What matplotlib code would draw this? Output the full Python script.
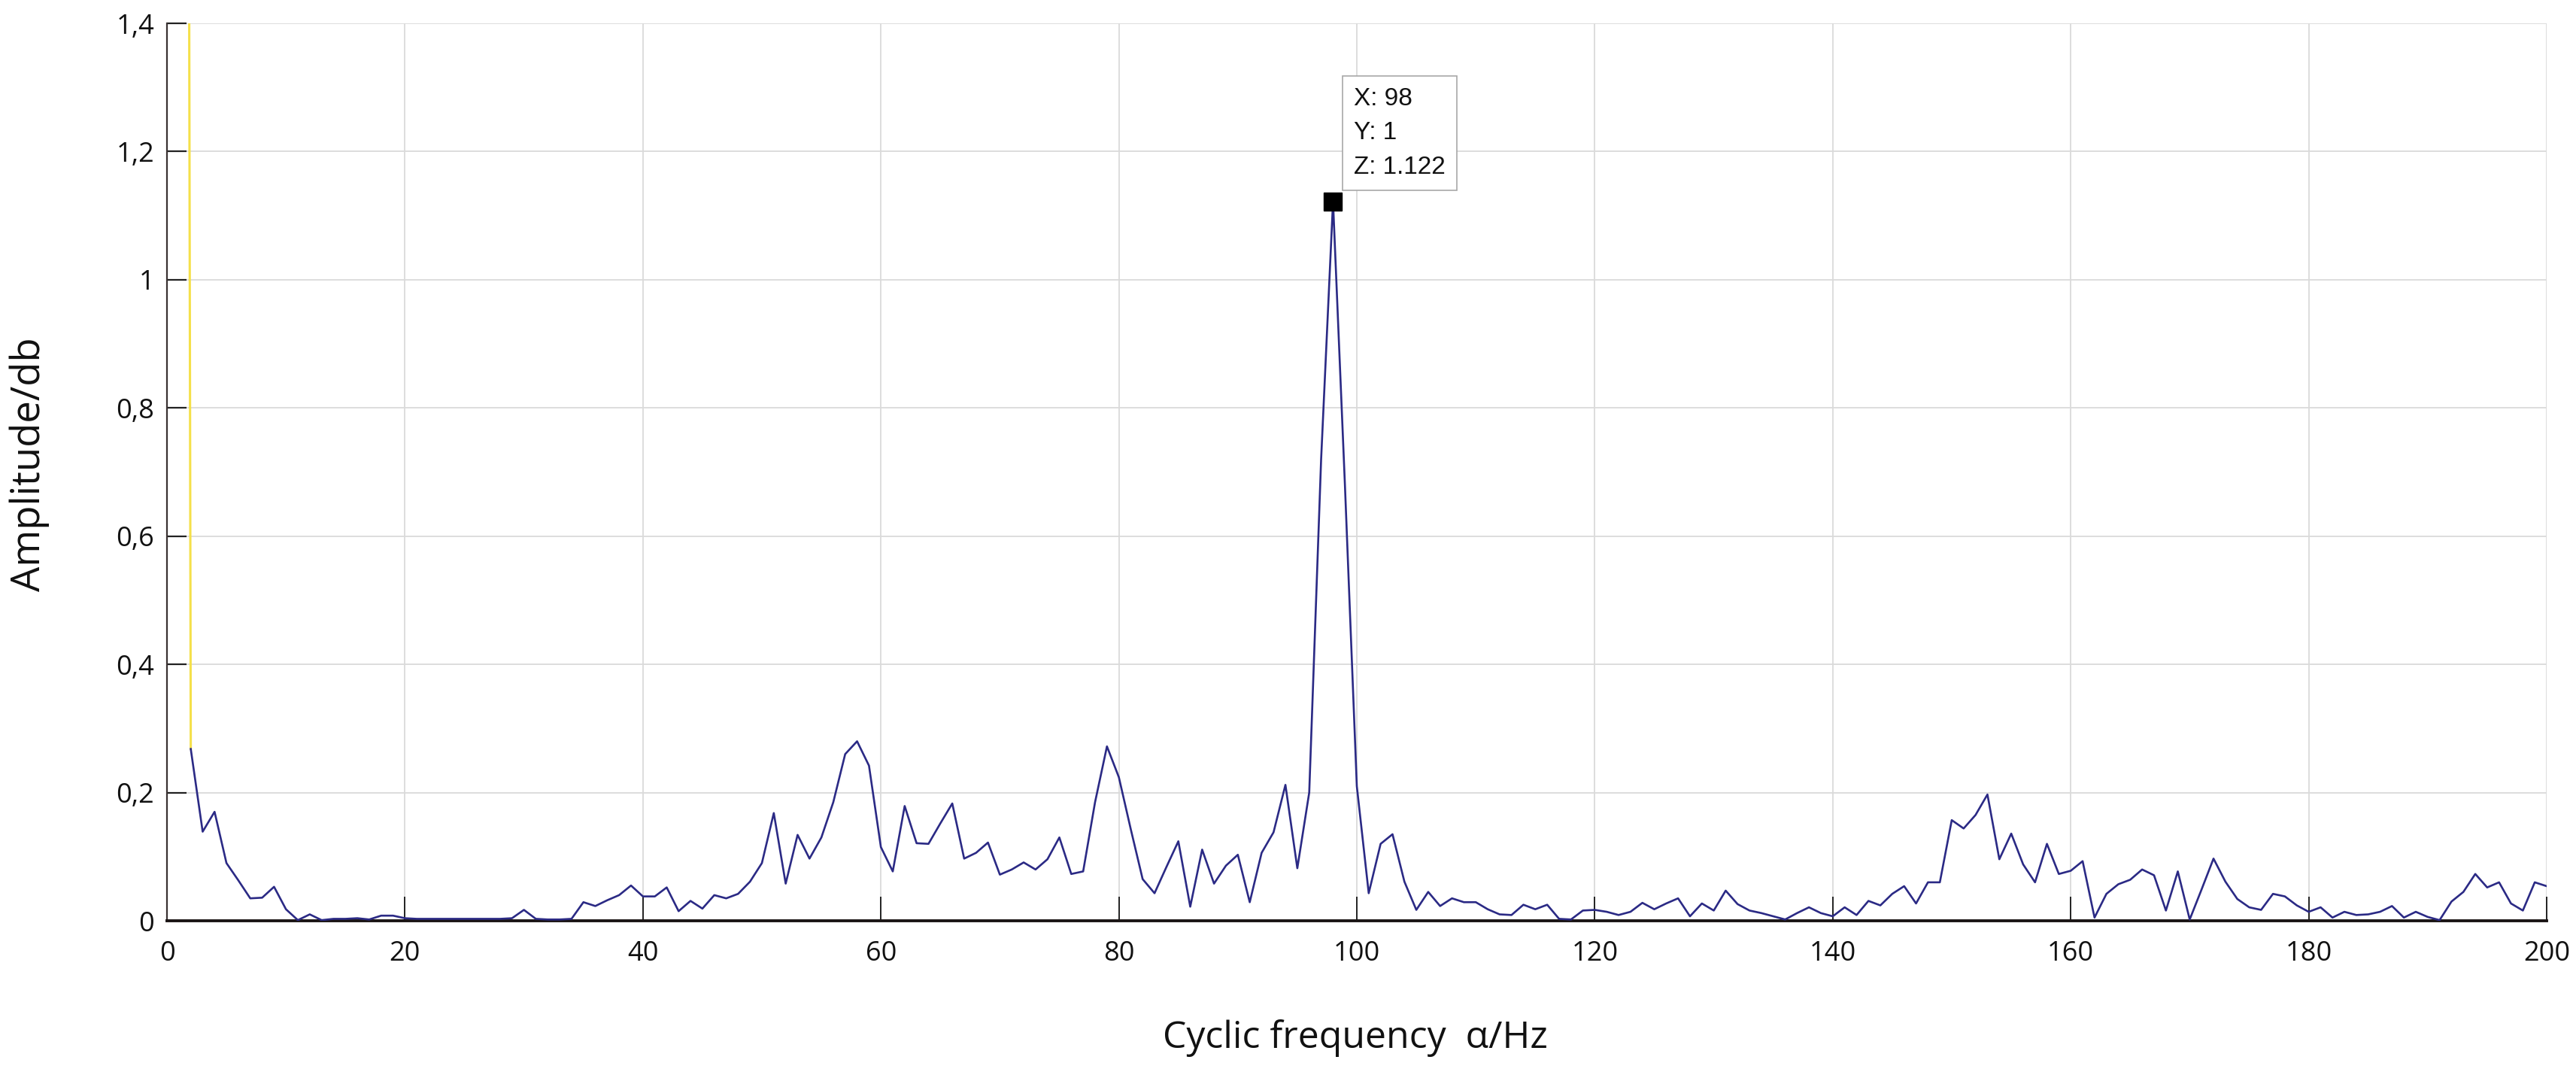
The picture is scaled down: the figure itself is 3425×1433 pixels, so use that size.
import matplotlib
matplotlib.use("Agg")
import matplotlib.pyplot as plt
import numpy as np

# ---------------- data ----------------
alpha_hz = list(range(2, 201))
amplitude = [
    0.268, 0.139, 0.170, 0.090, 0.063, 0.035, 0.036, 0.053, 0.018,          # 2-10
    0.001, 0.010, 0.001, 0.003, 0.003, 0.004, 0.002, 0.008, 0.008, 0.004,   # 11-20
    0.003, 0.003, 0.003, 0.003, 0.003, 0.003, 0.003, 0.003, 0.004, 0.017,   # 21-30
    0.003, 0.002, 0.002, 0.003, 0.029, 0.023, 0.032, 0.040, 0.055, 0.038,   # 31-40
    0.038, 0.052, 0.015, 0.031, 0.019, 0.040, 0.035, 0.042, 0.061, 0.090,   # 41-50
    0.168, 0.058, 0.134, 0.097, 0.130, 0.185, 0.260, 0.280, 0.242, 0.115,   # 51-60
    0.077, 0.179, 0.121, 0.120, 0.152, 0.183, 0.097, 0.106, 0.122, 0.072,   # 61-70
    0.080, 0.091, 0.080, 0.096, 0.130, 0.073, 0.077, 0.185, 0.272, 0.224,   # 71-80
    0.143, 0.065, 0.043, 0.084, 0.124, 0.022, 0.111, 0.058, 0.086, 0.103,   # 81-90
    0.029, 0.106, 0.138, 0.212, 0.082, 0.200, 0.720, 1.122, 0.680, 0.210,   # 91-100
    0.043, 0.120, 0.135, 0.061, 0.017, 0.045, 0.023, 0.035, 0.029, 0.029,   # 101-110
    0.018, 0.010, 0.009, 0.025, 0.018, 0.025, 0.003, 0.002, 0.016, 0.017,   # 111-120
    0.014, 0.009, 0.014, 0.028, 0.018, 0.027, 0.035, 0.007, 0.027, 0.016,   # 121-130
    0.047, 0.026, 0.016, 0.012, 0.007, 0.002, 0.012, 0.021, 0.012, 0.007,   # 131-140
    0.021, 0.009, 0.031, 0.024, 0.042, 0.054, 0.027, 0.060, 0.060, 0.157,   # 141-150
    0.144, 0.165, 0.197, 0.096, 0.136, 0.088, 0.060, 0.120, 0.073, 0.078,   # 151-160
    0.093, 0.005, 0.042, 0.057, 0.064, 0.080, 0.071, 0.016, 0.077, 0.002,   # 161-170
    0.049, 0.097, 0.061, 0.034, 0.021, 0.017, 0.042, 0.038, 0.024, 0.014,   # 171-180
    0.021, 0.005, 0.014, 0.009, 0.010, 0.014, 0.023, 0.005, 0.014, 0.006,   # 181-190
    0.001, 0.030, 0.045, 0.073, 0.052, 0.060, 0.027, 0.016, 0.060, 0.054,   # 191-200
]

# yellow segment at the low-frequency end (clipped at the top)
yellow_x = [1.87, 2.0]
yellow_z = [1.40, 0.268]

# data tip
tip_x, tip_y, tip_z = 98, 1, 1.122

x_ticks = list(range(0, 201, 20))
y_ticks = [0, 0.2, 0.4, 0.6, 0.8, 1.0, 1.2, 1.4]
y_tick_labels = ["0", "0,2", "0,4", "0,6", "0,8", "1", "1,2", "1,4"]

# ---------------- figure ----------------
W, H = 3425, 1433
fig = plt.figure(figsize=(W / 100, H / 100), dpi=100)
ax = fig.add_axes([222 / W, 1 - 1224 / H, (3386 - 222) / W, (1224 - 31) / H])

ax.set_xlim(0, 200)
ax.set_ylim(0, 1.4)

ax.grid(True, color="#dadada", linewidth=1.3)
ax.set_axisbelow(True)

ax.plot(yellow_x, yellow_z, color="#f5e04a", linewidth=2.2, zorder=3, clip_on=True)
ax.plot(alpha_hz, amplitude, color="#2b2a85", linewidth=1.9, zorder=4)
ax.plot([tip_x], [tip_z], marker="s", markersize=17, color="black",
        linestyle="none", zorder=6)

# spines
for s in ["top", "right"]:
    ax.spines[s].set_visible(False)
ax.spines["left"].set_color("#3a3232")
ax.spines["left"].set_linewidth(1.6)
ax.spines["bottom"].set_color("#1a1414")
ax.spines["bottom"].set_linewidth(2.8)

ax.set_xticks(x_ticks)
ax.set_xticklabels([str(v) for v in x_ticks])
ax.set_yticks(y_ticks)
ax.set_yticklabels(y_tick_labels)
ax.tick_params(axis="x", direction="in", length=23, width=1.4, color="#222222",
               pad=19, labelsize=26, labelcolor="#111111")
ax.tick_params(axis="y", direction="in", length=19, width=1.6, color="#222222",
               pad=12, labelsize=26, labelcolor="#111111")
for lab in ax.get_xticklabels() + ax.get_yticklabels():
    lab.set_fontfamily("Open Sans")

# data tip box
ax.annotate(f"X: {tip_x}\nY: {tip_y}\nZ: {tip_z:.3f}",
            xy=(tip_x, tip_z), xytext=(28, 30), textcoords="offset pixels",
            ha="left", va="bottom", fontsize=24, family="Liberation Sans",
            linespacing=1.6, color="#111111", zorder=7,
            bbox=dict(boxstyle="square,pad=0.45", fc="white", ec="#a8a8a8", lw=1.2))

# axis labels
fig.text(1802 / W, 1 - 1380 / H, "Cyclic frequency  α/Hz", ha="center", va="center",
         fontsize=36, family="Open Sans", color="#111111")
fig.text(39 / W, 1 - 617 / H, "Amplitude/db", ha="center", va="center",
         rotation=90, fontsize=38, family="Open Sans", color="#111111")

fig.savefig("out.png", dpi=100, facecolor="white")
